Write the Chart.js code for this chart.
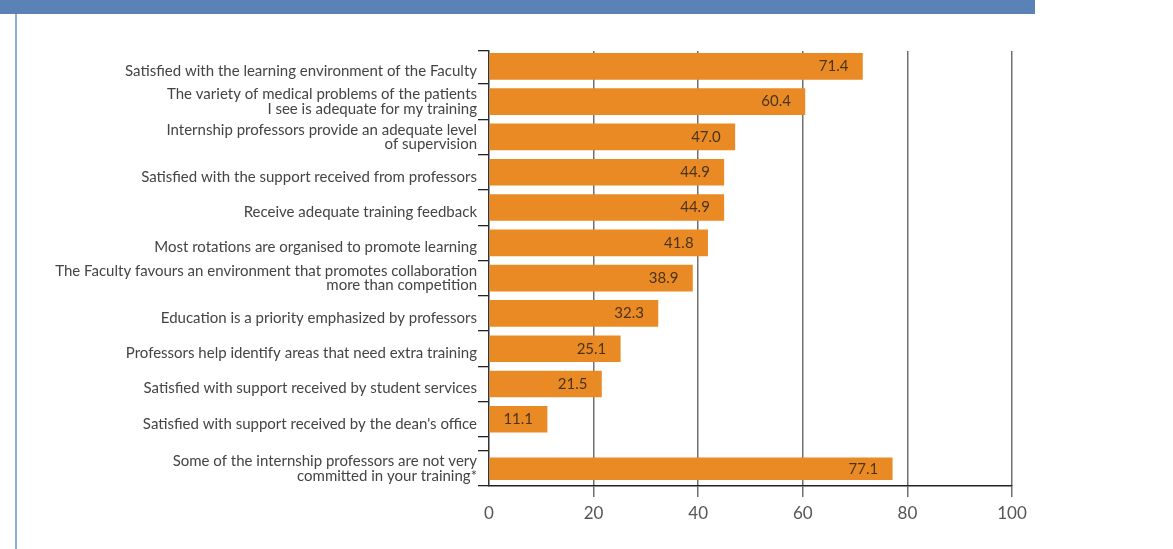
<!DOCTYPE html>
<html>
<head>
<meta charset="utf-8">
<script src="https://cdn.jsdelivr.net/npm/chart.js@4/dist/chart.umd.min.js"></script>
<style>
  html, body { margin: 0; padding: 0; background: #ffffff; }
  #wrap { position: relative; width: 1173px; height: 549px; overflow: hidden; }
  #band { position: absolute; left: 0; top: 0; width: 1035px; height: 14px; background: #5b82b6; }
  #rule { position: absolute; left: 15px; top: 14px; width: 2px; height: 535px; background: #8fabd8; }
  canvas { position: absolute; left: 0; top: 0; }
</style>
</head>
<body>
<div id="wrap">
  <div id="band"></div>
  <div id="rule"></div>
  <canvas id="chart" width="1173" height="549"></canvas>
</div>
<script>
// Survey statements (percent agreeing)
const categories = [
  "Satisfied with the learning environment of the Faculty",
  ["The variety of medical problems of the patients", "I see is adequate for my training"],
  ["Internship professors provide an adequate level", "of supervision"],
  "Satisfied with the support received from professors",
  "Receive adequate training feedback",
  "Most rotations are organised to promote learning",
  ["The Faculty favours an environment that promotes collaboration", "more than competition"],
  "Education is a priority emphasized by professors",
  "Professors help identify areas that need extra training",
  "Satisfied with support received by student services",
  "Satisfied with support received by the dean's office"
];
const values = [71.4, 60.4, 47.0, 44.9, 44.9, 41.8, 38.9, 32.3, 25.1, 21.5, 11.1];

// Negatively worded statement, shown separately below a small gap
const extraCategory = ["Some of the internship professors are not very", "committed in your training*"];
const extraValue = [77.1];

const xTicks = [0, 20, 40, 60, 80, 100];

// Vertical slot layout (in category units)
const GAP = 0.4;
const Y_MIN = -0.435;
const mainSlots = categories.map((c, i) => i);
const extraSlot = categories.length - 0.5 + GAP + 0.5;       // centre of the last row
const Y_MAX = extraSlot + 0.49;

const boundaries = [Y_MIN];
for (let i = 0; i < categories.length; i++) boundaries.push(i + 0.5);
boundaries.push(categories.length - 0.5 + GAP);
boundaries.push(Y_MAX);

const allLabels = categories.concat([extraCategory]);
const allSlots = mainSlots.concat([extraSlot]);
// single-line labels sit a little lower than the bar centre
const labelPos = allLabels.map((l, i) => allSlots[i] + (Array.isArray(l) ? 0 : 0.13));

const FONT = "Lato, 'Open Sans', 'DejaVu Sans', sans-serif";

const valueLabels = {
  id: 'valueLabels',
  afterDatasetsDraw(chart) {
    const ctx = chart.ctx;
    ctx.save();
    ctx.font = "15px " + FONT;
    ctx.fillStyle = "#4a3419";
    ctx.textAlign = "right";
    ctx.textBaseline = "middle";
    chart.data.datasets.forEach((ds, di) => {
      chart.getDatasetMeta(di).data.forEach((bar, i) => {
        ctx.fillText(ds.data[i].x.toFixed(1), bar.x - 14, bar.y);
      });
    });
    ctx.restore();
  }
};

new Chart(document.getElementById('chart'), {
  type: 'bar',
  data: {
    datasets: [
      {
        data: values.map((v, i) => ({ x: v, y: mainSlots[i] })),
        backgroundColor: '#e98a25',
        barThickness: 26,
        grouped: false,
        yAxisID: 'y'
      },
      {
        data: extraValue.map(v => ({ x: v, y: extraSlot })),
        backgroundColor: '#e98a25',
        barThickness: 22,
        grouped: false,
        yAxisID: 'y'
      }
    ]
  },
  options: {
    indexAxis: 'y',
    responsive: false,
    animation: false,
    layout: { padding: { top: 51, right: 161, left: 0, bottom: 0 } },
    plugins: { legend: { display: false }, tooltip: { enabled: false } },
    scales: {
      x: {
        type: 'linear',
        min: 0,
        max: 100,
        afterBuildTicks: s => { s.ticks = xTicks.map(v => ({ value: v })); },
        afterFit: s => { s.height = 63; },
        grid: {
          color: ctx => (ctx.tick && ctx.tick.value === 0) ? 'rgba(0,0,0,0)' : '#707070',
          lineWidth: 1.5,
          tickLength: 11,
          drawTicks: true
        },
        border: { display: true, color: '#222222', width: 1.5 },
        ticks: {
          font: { family: FONT, size: 17 },
          color: '#555555',
          padding: 6
        }
      },
      y: {
        type: 'linear',
        position: 'left',
        reverse: true,
        offset: false,
        min: Y_MIN,
        max: Y_MAX,
        weight: 0,
        afterBuildTicks: s => { s.ticks = boundaries.map(v => ({ value: v })); },
        afterFit: s => { s.width = 11; },
        grid: {
          offset: false,
          drawOnChartArea: false,
          color: '#222222',
          lineWidth: 1.3,
          tickLength: 11
        },
        border: { display: true, color: '#333333', width: 1.5 },
        ticks: { display: false }
      },
      yLabels: {
        type: 'linear',
        position: 'left',
        reverse: true,
        offset: false,
        min: Y_MIN,
        max: Y_MAX,
        weight: 1,
        afterBuildTicks: s => { s.ticks = labelPos.map(v => ({ value: v })); },
        afterFit: s => { s.width = 478; },
        grid: { display: false, drawTicks: false, offset: false },
        border: { display: false },
        ticks: {
          padding: 1,
          font: { family: FONT, size: 15, lineHeight: 0.97 },
          color: '#444444',
          callback: (v, i) => allLabels[i]
        }
      }
    }
  },
  plugins: [valueLabels]
});
</script>
</body>
</html>
